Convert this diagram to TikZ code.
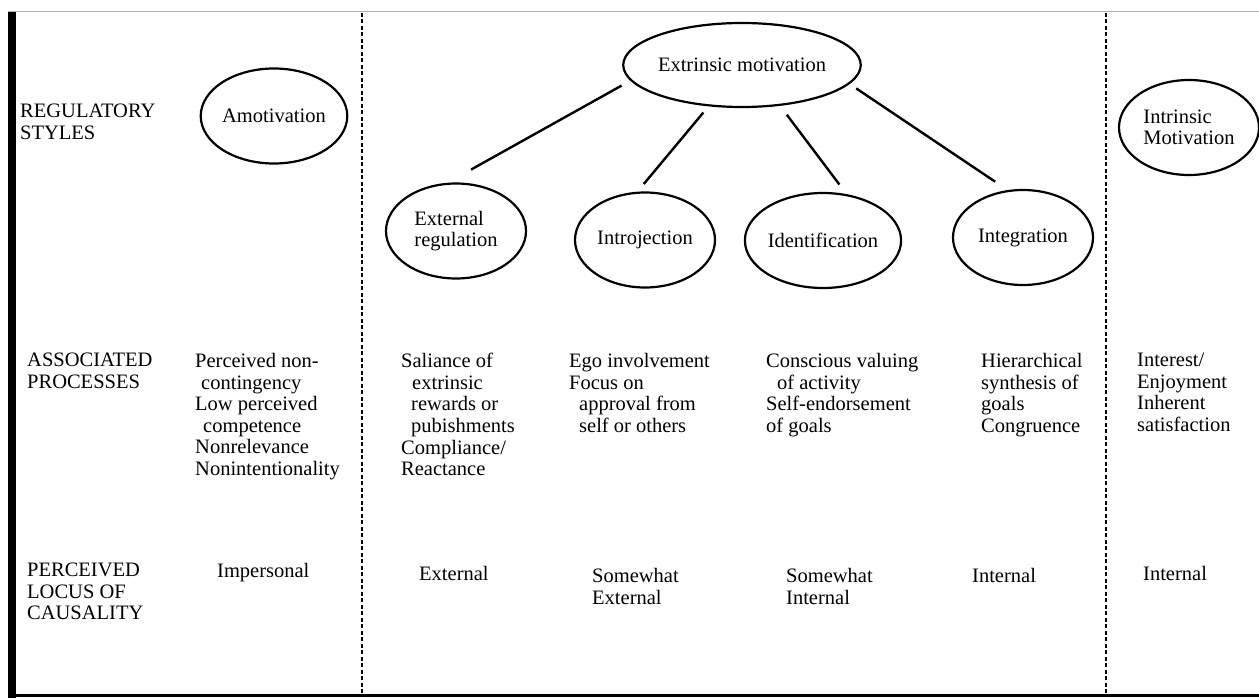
\documentclass[tikz,border=0pt]{standalone}
\usepackage{fontspec}
\setmainfont{Liberation Serif}
\usetikzlibrary{shapes.geometric}
\begin{document}
\begin{tikzpicture}[x=1pt,y=-1pt,
  every node/.style={font=\fontsize{20.5}{21.6}\selectfont},
  txt/.style={anchor=north west, inner sep=0pt, align=left},
  oval/.style={ellipse, draw, line width=2.2pt, minimum width=140pt, minimum height=95pt, inner sep=0pt, align=left},
  conn/.style={line width=2.4pt},
  sepline/.style={line width=2.2pt, dash pattern=on 4pt off 2.5pt}]
\useasboundingbox (0,0) rectangle (1259,698);
% frame
\draw[gray!60, line width=1pt] (8,12) -- (1259,12);
\fill (8,12) rectangle (16,698);
\draw[line width=3pt] (8,695) -- (1259,695);
\draw[sepline] (362,13) -- (362,695);
\draw[sepline] (1106,13) -- (1106,695);
% row labels
\node[txt] (rs) at (20,104) {REGULATORY\\STYLES};
\node[txt] (ap) at (27,353) {ASSOCIATED\\PROCESSES};
\node[txt] (pl) at (27,563) {PERCEIVED\\LOCUS OF\\CAUSALITY};
% ellipses
\node[oval] (amo) at (274,116) {Amotivation};
\node[oval, minimum width=204pt, minimum height=84pt] (em) at (742,65) {Extrinsic motivation};
\node[oval] (im) at (1189,127.5) {Intrinsic\\Motivation};
\node[oval] (er) at (456,231) {External\\regulation};
\node[oval] (intro) at (645,240) {Introjection};
\node[oval] (ident) at (823,240.5) {Identification};
\node[oval] (integ) at (1023,237.5) {Integration};
% connectors
\draw[conn, shorten <=10pt, shorten >=27pt] (em.188) -- (er.100);
\draw[conn, shorten <=8pt, shorten >=10pt] (em.231) -- (intro.99);
\draw[conn, shorten <=11pt, shorten >=12pt] (em.313) -- (ident.63);
\draw[conn, shorten <=8pt, shorten >=15pt] (em.350) -- (integ.108);
% associated processes
\node[txt] (p1) at (195,353) {Perceived non-\\\hspace*{6pt}contingency\\Low perceived\\\hspace*{8pt}competence\\Nonrelevance\\Nonintentionality};
\node[txt] (p2) at (401,353) {Saliance of\\\hspace*{11pt}extrinsic\\\hspace*{10pt}rewards or\\\hspace*{10pt}pubishments\\Compliance/\\Reactance};
\node[txt] (p3) at (569,353) {Ego involvement\\Focus on\\\hspace*{10pt}approval from\\\hspace*{10pt}self or others};
\node[txt] (p4) at (766,353) {Conscious valuing\\\hspace*{11pt}of activity\\Self-endorsement\\of goals};
\node[txt] (p5) at (981,353) {Hierarchical\\synthesis of\\goals\\Congruence};
\node[txt] (p6) at (1137,353) {Interest/\\Enjoyment\\Inherent\\satisfaction};
% locus
\node[txt] (l1) at (217,563) {Impersonal};
\node[txt] (l2) at (419,566) {External};
\node[txt] (l3) at (592,568) {Somewhat\\External};
\node[txt] (l4) at (786,568) {Somewhat\\Internal};
\node[txt] (l5) at (972,568) {Internal};
\node[txt] (l6) at (1143,566) {Internal};
\end{tikzpicture}
\end{document}
